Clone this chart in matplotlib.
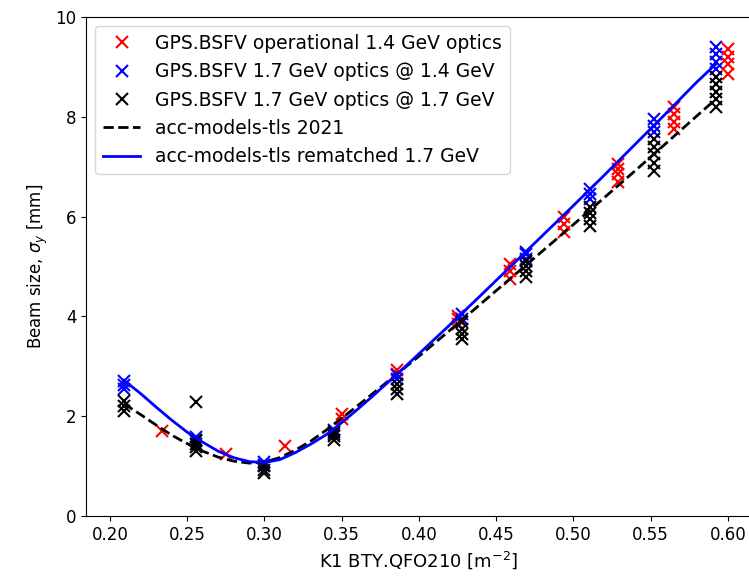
import numpy as np
import matplotlib
matplotlib.use('Agg')
import matplotlib.pyplot as plt

# measured beam sizes, GPS.BSFV operational 1.4 GeV optics
k1_red = [0.234, 0.275, 0.313, 0.350, 0.350, 0.386, 0.386,
          0.425, 0.425, 0.425, 0.459, 0.459, 0.459,
          0.494, 0.494, 0.494, 0.529, 0.529, 0.529, 0.529,
          0.565, 0.565, 0.565, 0.565, 0.600, 0.600, 0.600, 0.600]
sig_red = [1.70, 1.25, 1.40, 1.95, 2.05, 2.85, 2.92,
           3.85, 3.95, 4.00, 4.75, 4.90, 5.05,
           5.70, 5.85, 6.00, 6.70, 6.85, 6.95, 7.05,
           7.75, 7.90, 8.05, 8.20, 8.85, 9.05, 9.20, 9.35]

# 1.7 GeV optics @ 1.4 GeV
k1_blue = [0.209, 0.209, 0.209, 0.256, 0.256, 0.300, 0.300,
           0.345, 0.345, 0.386, 0.386, 0.428, 0.428,
           0.469, 0.469, 0.469, 0.511, 0.511, 0.511,
           0.552, 0.552, 0.552, 0.592, 0.592, 0.592, 0.592]
sig_blue = [2.55, 2.62, 2.70, 1.50, 1.58, 1.03, 1.08,
            1.65, 1.72, 2.75, 2.82, 3.95, 4.05,
            5.15, 5.25, 5.30, 6.35, 6.45, 6.55,
            7.70, 7.82, 7.95, 8.95, 9.10, 9.25, 9.40]

# 1.7 GeV optics @ 1.7 GeV
k1_black = [0.209, 0.209, 0.209, 0.256, 0.256, 0.256, 0.256, 0.256,
            0.300, 0.300, 0.300, 0.345, 0.345, 0.345,
            0.386, 0.386, 0.386, 0.428, 0.428, 0.428, 0.428,
            0.469, 0.469, 0.469, 0.469, 0.511, 0.511, 0.511, 0.511,
            0.552, 0.552, 0.552, 0.552, 0.552,
            0.592, 0.592, 0.592, 0.592, 0.592]
sig_black = [2.10, 2.20, 2.30, 2.28, 1.30, 1.38, 1.45, 1.52,
             0.87, 0.93, 1.00, 1.52, 1.60, 1.68,
             2.45, 2.55, 2.65, 3.55, 3.65, 3.75, 3.88,
             4.78, 4.90, 5.00, 5.10, 5.82, 5.95, 6.08, 6.20,
             6.92, 7.08, 7.25, 7.40, 7.55,
             8.20, 8.35, 8.50, 8.65, 8.80]

# model: acc-models-tls 2021
k1_mod = [0.209, 0.22, 0.23, 0.24, 0.25, 0.26, 0.27, 0.28, 0.29, 0.30,
          0.31, 0.32, 0.33, 0.34, 0.35, 0.36, 0.37, 0.38, 0.39, 0.40,
          0.42, 0.44, 0.46, 0.48, 0.50, 0.52, 0.54, 0.56, 0.58, 0.592]
sig_2021 = [2.25, 2.03, 1.82, 1.62, 1.45, 1.30, 1.18, 1.10, 1.06, 1.08,
            1.17, 1.32, 1.50, 1.72, 1.96, 2.20, 2.45, 2.70, 2.95, 3.20,
            3.72, 4.25, 4.78, 5.31, 5.84, 6.38, 6.92, 7.47, 8.02, 8.35]
# model: rematched 1.7 GeV
sig_remat = [2.72, 2.45, 2.18, 1.92, 1.68, 1.48, 1.30, 1.17, 1.09, 1.07,
             1.13, 1.27, 1.44, 1.63, 1.87, 2.13, 2.40, 2.68, 2.96, 3.25,
             3.83, 4.42, 5.02, 5.62, 6.22, 6.83, 7.45, 8.07, 8.70, 9.05]

fig = plt.figure(figsize=(7.49, 5.78), dpi=100)
ax = fig.add_axes([0.1148, 0.1073, 0.889, 0.8633])

ax.plot(k1_red, sig_red, 'x', color='red', ms=8, mew=1.5,
        label='GPS.BSFV operational 1.4 GeV optics')
ax.plot(k1_blue, sig_blue, 'x', color='blue', ms=8, mew=1.5,
        label='GPS.BSFV 1.7 GeV optics @ 1.4 GeV')
ax.plot(k1_black, sig_black, 'x', color='black', ms=8, mew=1.5,
        label='GPS.BSFV 1.7 GeV optics @ 1.7 GeV')
ax.plot(k1_mod, sig_2021, '--', color='black', lw=2,
        label='acc-models-tls 2021')
ax.plot(k1_mod, sig_remat, '-', color='blue', lw=2,
        label='acc-models-tls rematched 1.7 GeV')

ax.set_xlim(0.1845, 0.6155)
ax.set_ylim(0, 10)
ax.set_xticks([0.20, 0.25, 0.30, 0.35, 0.40, 0.45, 0.50, 0.55, 0.60])
ax.set_yticks([0, 2, 4, 6, 8, 10])
ax.tick_params(labelsize=12)
ax.set_xlabel('K1 BTY.QFO210 [m$^{-2}$]', fontsize=13)
ax.set_ylabel('Beam size, $\\sigma_y$ [mm]', fontsize=12)
ax.legend(loc='upper left', fontsize=13.5)

fig.savefig('out.png', dpi=100)
